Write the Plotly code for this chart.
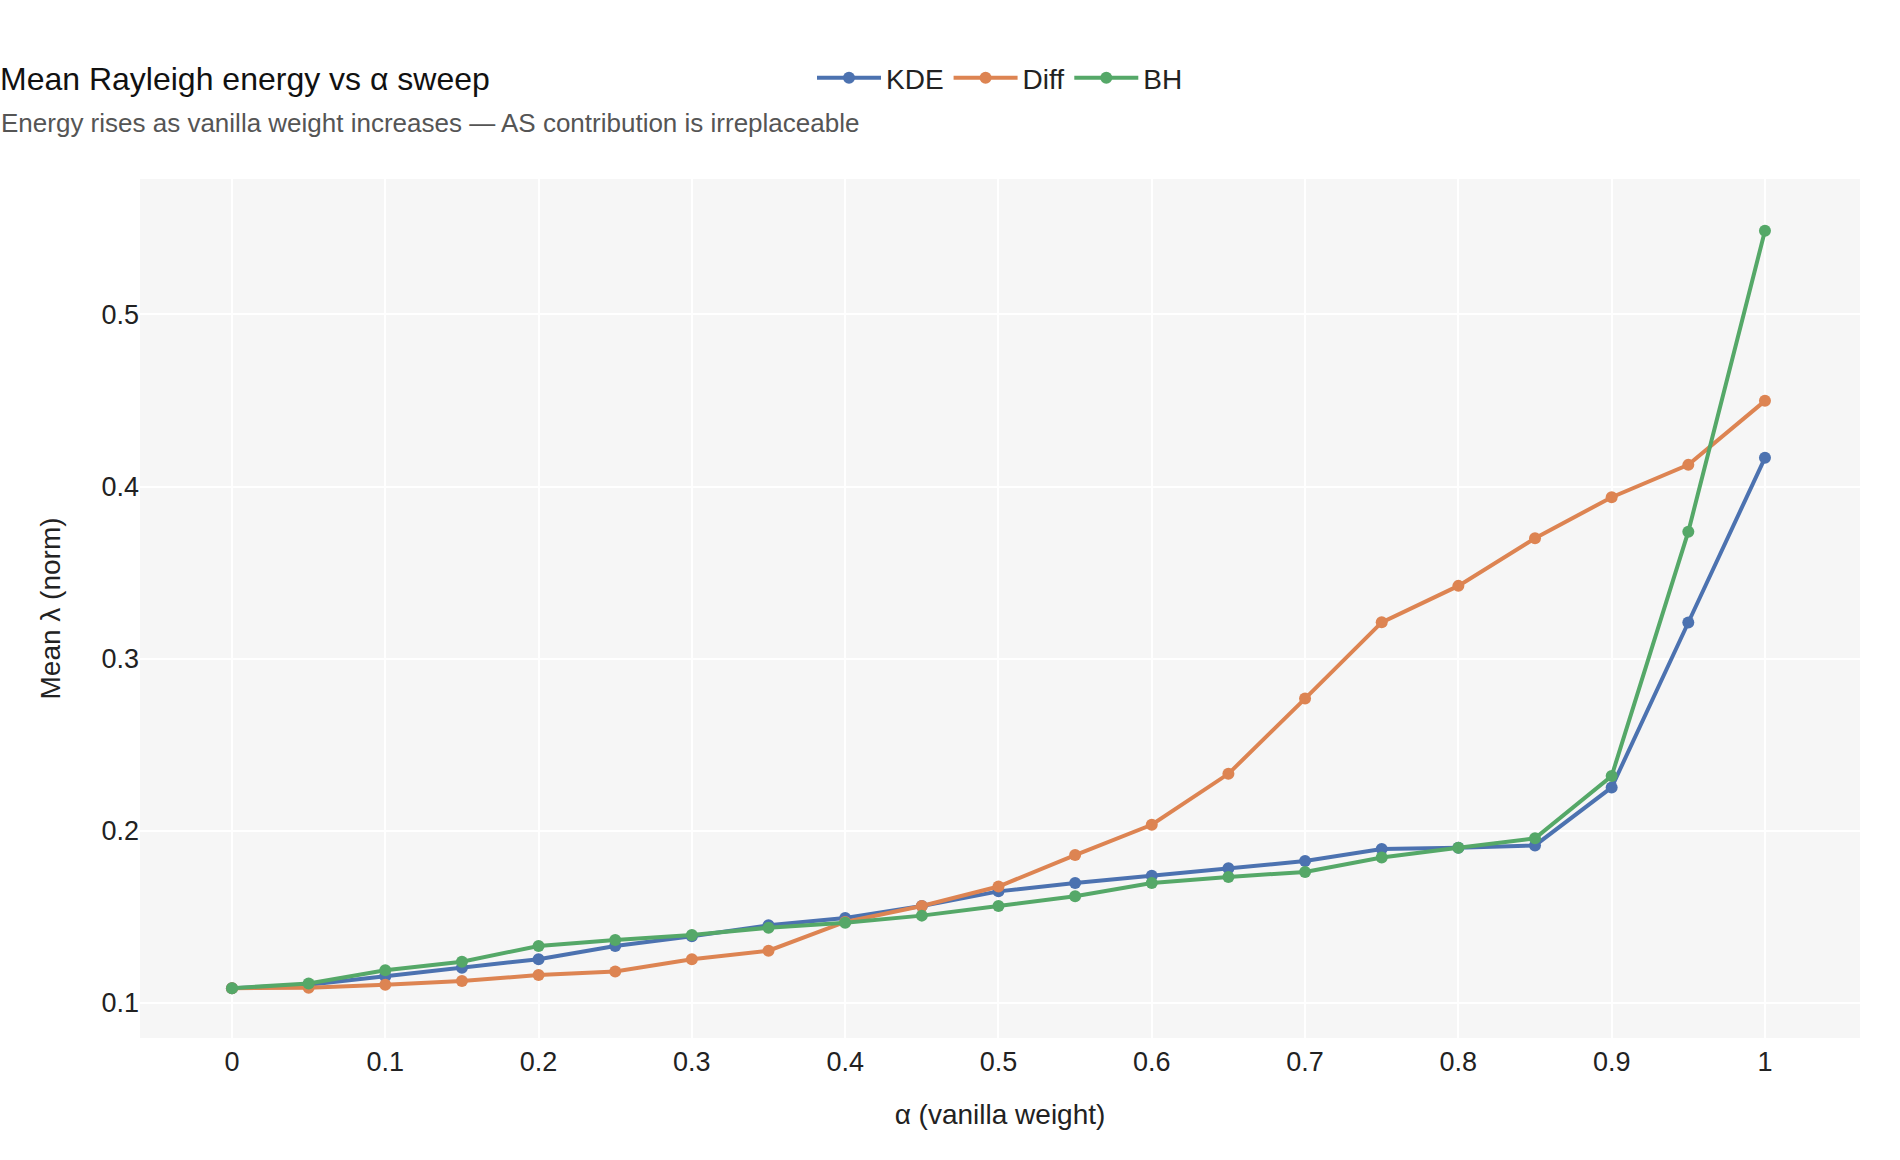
import plotly.graph_objects as go

alpha = [0.0, 0.05, 0.1, 0.15, 0.2, 0.25, 0.3, 0.35, 0.4, 0.45, 0.5,
         0.55, 0.6, 0.65, 0.7, 0.75, 0.8, 0.85, 0.9, 0.95, 1.0]

kde = [0.1085, 0.1106, 0.1155, 0.1204, 0.1254, 0.1331, 0.1387, 0.1451, 0.1493, 0.1563, 0.1648,
       0.1697, 0.1739, 0.1782, 0.1824, 0.1894, 0.1901, 0.1915, 0.2252, 0.3210, 0.4167]

diff = [0.1085, 0.1088, 0.1106, 0.1127, 0.1162, 0.1183, 0.1254, 0.1303, 0.1470, 0.1563, 0.1676,
        0.1859, 0.2035, 0.2331, 0.2768, 0.3211, 0.3423, 0.3700, 0.3938, 0.4126, 0.4498]

bh = [0.1085, 0.1113, 0.1190, 0.1239, 0.1331, 0.1366, 0.1394, 0.1437, 0.1465, 0.1507, 0.1563,
      0.1620, 0.1697, 0.1732, 0.1761, 0.1845, 0.1902, 0.1956, 0.2318, 0.3738, 0.5486]

series_names = ["KDE", "Diff", "BH"]
series_colors = ["#4C72B0", "#DD8452", "#55A868"]

title_text = "Mean Rayleigh energy vs α sweep"
subtitle_text = "Energy rises as vanilla weight increases — AS contribution is irreplaceable"
x_title = "α (vanilla weight)"
y_title = "Mean λ (norm)"
x_ticks = [0, 0.1, 0.2, 0.3, 0.4, 0.5, 0.6, 0.7, 0.8, 0.9, 1]
x_ticklabels = ["0", "0.1", "0.2", "0.3", "0.4", "0.5", "0.6", "0.7", "0.8", "0.9", "1"]
y_ticks = [0.1, 0.2, 0.3, 0.4, 0.5]
y_ticklabels = ["0.1", "0.2", "0.3", "0.4", "0.5"]

FONT = "Liberation Sans, Arial, Helvetica, sans-serif"

fig = go.Figure()
for name, vals, col in zip(series_names, [kde, diff, bh], series_colors):
    fig.add_trace(go.Scatter(
        x=alpha, y=vals, name=name, mode="lines+markers",
        line=dict(color=col, width=4),
        marker=dict(color=col, size=12),
    ))

W, H = 1900, 1160
ml, mr, mt, mb = 140, 40, 179, 122
plot_w = W - ml - mr
plot_h = H - mt - mb

fig.update_layout(
    width=W, height=H,
    margin=dict(l=ml, r=mr, t=mt, b=mb, pad=0),
    paper_bgcolor="white",
    plot_bgcolor="#F6F6F6",
    font=dict(family=FONT, size=27, color="#222222"),
    title=dict(text=title_text, x=0, xref="container", xanchor="left",
               y=1 - 79 / H, yref="container", yanchor="middle",
               font=dict(family=FONT, size=32, color="#111111")),
    legend=dict(orientation="h", x=0.5, xanchor="center", xref="paper",
                y=1 - 78 / H, yref="container", yanchor="middle",
                itemwidth=64,
                font=dict(family=FONT, size=28, color="#222222"),
                bgcolor="rgba(0,0,0,0)"),
    annotations=[dict(
        text=subtitle_text, xref="paper", yref="paper",
        x=-ml / plot_w, y=1 + (mt - 123) / plot_h,
        xanchor="left", yanchor="middle", showarrow=False, borderpad=0,
        font=dict(family=FONT, size=26, color="#555555"))],
    xaxis=dict(
        title=dict(text=x_title, font=dict(size=28, color="#222222"), standoff=28),
        range=[-0.06, 1.062], tickmode="array", tickvals=x_ticks, ticktext=x_ticklabels,
        showgrid=True, gridcolor="white", gridwidth=2, zeroline=False,
        showline=False, ticks="", ticklabelstandoff=5,
        tickfont=dict(size=27, color="#222222")),
    yaxis=dict(
        title=dict(text=y_title, font=dict(size=28, color="#222222"), standoff=32),
        range=[0.0796, 0.5787], tickmode="array", tickvals=y_ticks, ticktext=y_ticklabels,
        showgrid=True, gridcolor="white", gridwidth=2, zeroline=False,
        showline=False, ticks="", tickfont=dict(size=27, color="#222222")),
)

fig.write_html("out.html")
